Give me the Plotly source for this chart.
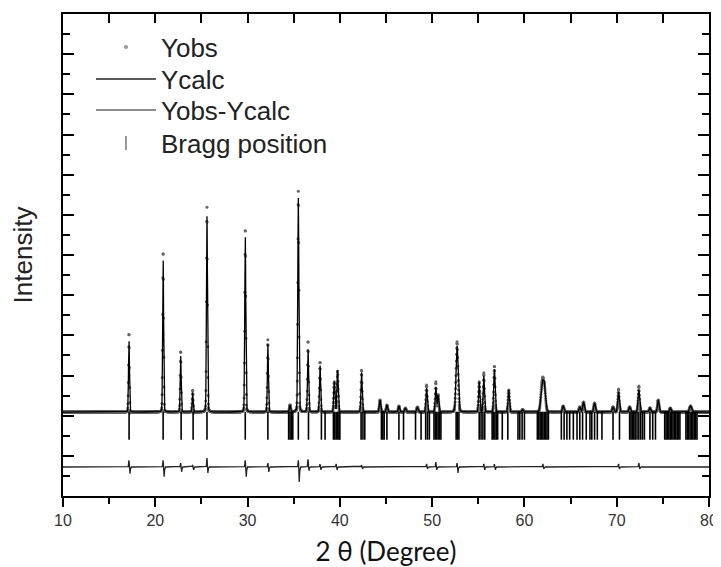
import numpy as np
import plotly.graph_objects as go

# ---------------- data ----------------
background = 180.0
peak_pos = [17.15, 20.85, 22.75, 24.05, 25.6, 29.75, 32.2, 34.6, 35.5, 36.55,
            37.85, 39.4, 39.75, 42.35, 44.35, 45.1, 46.4, 47.1, 48.4, 49.4,
            50.4, 50.65, 52.7, 55.1, 55.6, 56.75, 58.3, 59.8, 61.9, 62.15,
            64.2, 66.0, 66.4, 67.6, 69.6, 70.2, 71.4, 72.4, 73.6, 74.5, 75.8, 78.0]
peak_height = [3600, 7700, 2850, 1000, 9750, 8850, 3400, 350, 10650, 3150,
               2350, 1500, 2100, 2000, 600, 350, 300, 200, 250, 1200,
               1250, 850, 3300, 1500, 1800, 2150, 1100, 120, 1300, 1300,
               300, 250, 500, 450, 250, 1000, 250, 1100, 200, 600, 200, 300]
peak_fwhm = [0.12, 0.12, 0.12, 0.12, 0.13, 0.13, 0.13, 0.15, 0.14, 0.14,
             0.14, 0.15, 0.15, 0.15, 0.17, 0.17, 0.17, 0.17, 0.17, 0.16,
             0.16, 0.16, 0.26, 0.16, 0.16, 0.17, 0.17, 0.2, 0.3, 0.3,
             0.2, 0.2, 0.2, 0.2, 0.2, 0.2, 0.2, 0.2, 0.2, 0.2, 0.2, 0.26]

resid_pos = [17.15, 20.85, 22.75, 24.05, 25.6, 29.75, 32.2, 35.5, 36.55, 37.85,
             39.6, 42.35, 49.4, 50.4, 52.7, 55.6, 56.75, 62.0, 70.2, 72.4]
resid_up = [350, 350, 200, 100, 450, 350, 200, 350, 400, 150,
            150, 100, 150, 250, 200, 150, 150, 150, 150, 200]
resid_dn = [350, 500, 250, 150, 300, 500, 250, 750, 200, 150,
            150, 100, 100, 150, 300, 150, 150, 100, 100, 100]

bragg_pos = [17.16, 20.85, 22.8, 24.1, 25.6, 29.75, 32.2, 34.45, 34.6, 34.75, 34.9,
             35.5, 36.6, 38.0, 38.4, 39.3, 39.45, 39.6, 39.75, 39.9, 40.0,
             42.3, 42.5, 42.7, 44.5, 44.65, 44.8, 45.1, 46.4, 46.9, 48.2, 48.8,
             49.3, 49.5, 49.7, 50.2, 50.35, 50.5, 50.65, 50.8, 50.95,
             52.6, 52.75, 52.9, 55.1, 55.3, 55.5, 55.7, 56.5, 56.65, 56.8,
             56.95, 57.1, 57.6, 58.2, 59.3, 59.5, 59.75, 60.0,
             61.4, 61.55, 61.7, 61.85, 62.0, 62.15, 62.3, 62.45, 62.6,
             64.0, 64.3, 64.6, 64.9, 65.3, 65.7, 66.0, 66.3, 66.7, 67.1,
             67.3, 67.6, 67.9, 68.4, 69.6, 70.3, 71.4, 71.55, 71.7, 71.85,
             72.0, 72.2, 72.4, 72.6, 72.8, 73.0, 73.6, 73.9, 74.2,
             75.2, 75.35, 75.5, 75.65, 75.8, 75.95, 76.1, 76.25, 76.4, 76.55,
             76.7, 76.85, 77.5, 77.65, 77.8, 77.95, 78.1, 78.25, 78.4, 78.55, 78.7]

bragg_level = -500.0
diff_offset = -2556.0

x_ticks = [10, 20, 30, 40, 50, 60, 70, 80]
legend_names = ["Yobs", "Ycalc", "Yobs-Ycalc", "Bragg position"]

# ---------------- profiles ----------------
two_theta = np.round(np.arange(10.0, 80.0001, 0.02), 3)
ycalc = np.full_like(two_theta, background)
for p, h, w in zip(peak_pos, peak_height, peak_fwhm):
    u = (two_theta - p) / w
    g = np.exp(-4 * np.log(2) * u ** 2)
    l = 1.0 / (1.0 + 4 * u ** 2)
    ycalc += h * (0.88 * g + 0.12 * l)

resid = np.zeros_like(two_theta)
for p, a, b in zip(resid_pos, resid_up, resid_dn):
    resid += a * np.exp(-((two_theta - p) / 0.05) ** 2)
    resid -= b * np.exp(-((two_theta - (p + 0.1)) / 0.05) ** 2)

yobs = ycalc + resid
ydiff = resid + diff_offset

# ---------------- figure ----------------
fig = go.Figure()

fig.add_trace(go.Scatter(x=two_theta, y=yobs, mode="markers",
                         marker=dict(size=3, color="#666666"),
                         showlegend=False, hoverinfo="skip"))
fig.add_trace(go.Scatter(x=two_theta, y=ycalc, mode="lines",
                         line=dict(color="black", width=1.3),
                         showlegend=False, hoverinfo="skip"))
fig.add_trace(go.Scatter(x=two_theta, y=ydiff, mode="lines",
                         line=dict(color="#222222", width=1.3),
                         showlegend=False, hoverinfo="skip"))
fig.add_trace(go.Scatter(x=bragg_pos, y=[bragg_level] * len(bragg_pos), mode="markers",
                         marker=dict(symbol="line-ns", size=20,
                                     line=dict(color="black", width=1.6)),
                         showlegend=False, hoverinfo="skip"))

# legend entries, one legend box per row
fig.add_trace(go.Scatter(x=[None], y=[None], mode="markers", name=legend_names[0],
                         legend="legend",
                         marker=dict(size=4, color="#999999")))
fig.add_trace(go.Scatter(x=[None], y=[None], mode="lines", name=legend_names[1],
                         legend="legend2",
                         line=dict(color="#222222", width=1.5)))
fig.add_trace(go.Scatter(x=[None], y=[None], mode="lines", name=legend_names[2],
                         legend="legend3",
                         line=dict(color="#666666", width=1.5)))
fig.add_trace(go.Scatter(x=[None], y=[None], mode="markers", name=legend_names[3],
                         legend="legend4",
                         marker=dict(symbol="line-ns", size=10,
                                     line=dict(color="#777777", width=1.5))))
# invisible trace that carries the top axis
fig.add_trace(go.Scatter(x=[10, 80], y=[-100000, -100000], xaxis="x2", mode="markers",
                         marker=dict(opacity=0), showlegend=False,
                         hoverinfo="skip"))

legend_font = dict(size=26, family="Liberation Sans, Arial, sans-serif", color="#222222")


def legend_box(yc):
    return dict(x=0.0433, y=yc, xanchor="left", yanchor="middle",
                bgcolor="rgba(0,0,0,0)", borderwidth=0, font=legend_font,
                itemwidth=60)


# page body margin (8 px) shifts the figure; size is reduced accordingly
fig.update_layout(
    width=713, height=559,
    margin=dict(l=55, r=12, t=6, b=71),
    paper_bgcolor="white", plot_bgcolor="white",
    font=dict(family="Liberation Sans, Arial, sans-serif", color="#222222"),
    showlegend=True,
    legend=legend_box(0.9315),
    legend2=legend_box(0.8651),
    legend3=legend_box(0.8008),
    legend4=legend_box(0.7324),
    xaxis=dict(range=[10, 80], tickmode="array", tickvals=x_ticks,
               ticktext=[str(v) for v in x_ticks], automargin=False,
               ticks="outside", ticklen=9, tickwidth=2, tickcolor="black",
               minor=dict(dtick=5, ticks="outside", ticklen=6, tickwidth=2,
                          tickcolor="black"),
               showline=True, linewidth=2, linecolor="black", mirror=True,
               showgrid=False, zeroline=False,
               tickfont=dict(size=16, color="#333333"),
               title=dict(text="2 θ (Degree)", standoff=17,
                          font=dict(size=26, family="Lato, Open Sans, sans-serif",
                                    color="#111111"))),
    xaxis2=dict(range=[10, 80], overlaying="x", side="top", anchor="y",
                tickmode="linear", tick0=10, dtick=5, automargin=False,
                ticks="inside", ticklen=9, tickwidth=2, tickcolor="black",
                showticklabels=False, showline=False, showgrid=False,
                zeroline=False),
    yaxis=dict(range=[-4000, 20000], tickmode="linear", tick0=-4000, dtick=2000,
               ticks="inside", ticklen=11, tickwidth=2, tickcolor="black",
               minor=dict(dtick=1000, ticks="inside", ticklen=7, tickwidth=2,
                          tickcolor="black"),
               showticklabels=False, automargin=False,
               showline=True, linewidth=2, linecolor="black", mirror="ticks",
               showgrid=False, zeroline=False,
               title=dict(text="Intensity", standoff=22,
                          font=dict(size=26, color="#222222"))),
)

fig.write_html("out.html")
